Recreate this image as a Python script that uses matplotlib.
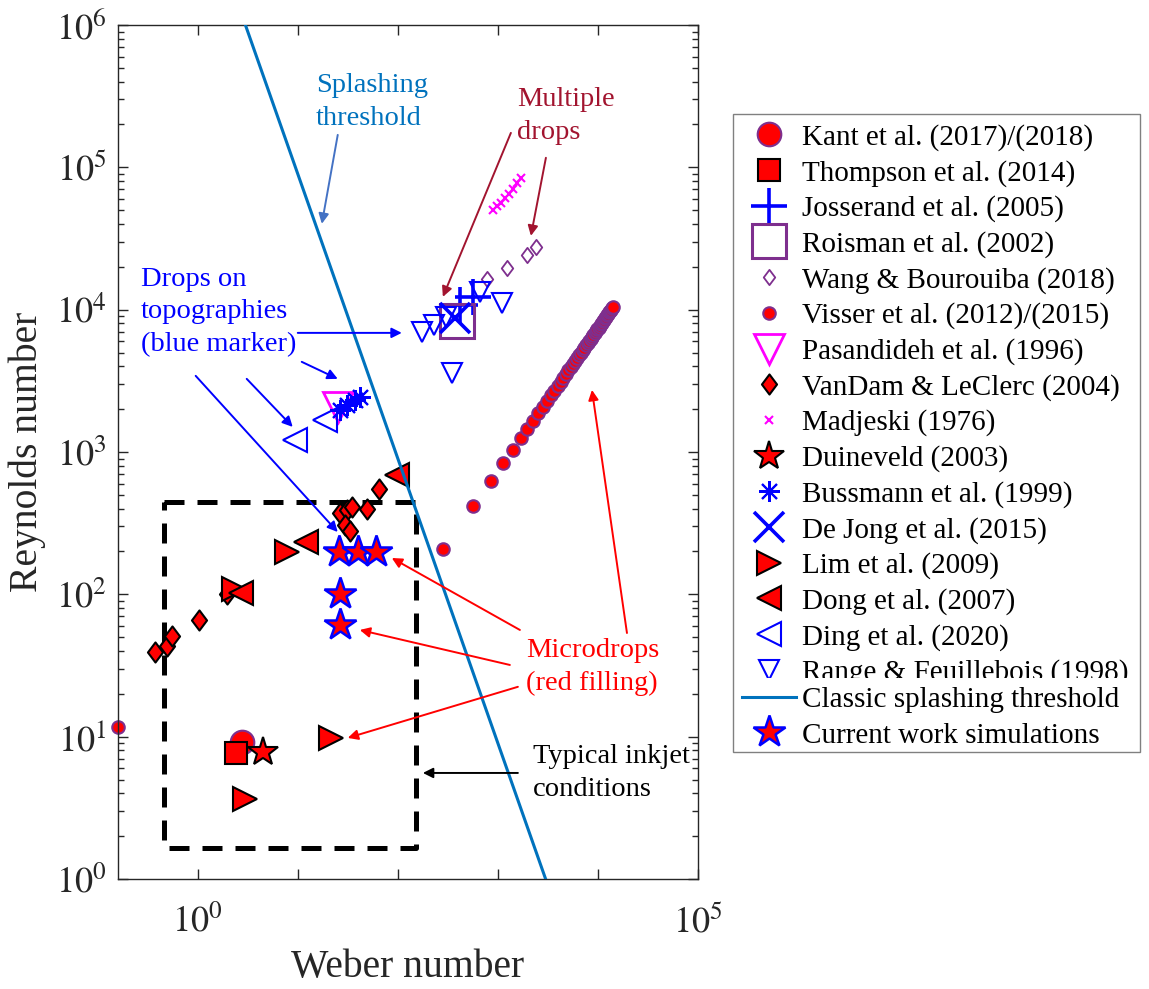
import matplotlib
matplotlib.use("Agg")
import matplotlib.pyplot as plt
from matplotlib.patches import Rectangle
from matplotlib.path import Path

# ---------- data (Weber, Reynolds) ----------
kant_we = [2.8]
kant_re = [9.2]
thompson_we = [2.4]
thompson_re = [7.7]
josserand_we = [417, 562]
josserand_re = [10800, 12300]
roisman_we = [389]
roisman_re = [8340]
wang_we = [776, 1230, 1950, 2400]
wang_re = [16450, 19660, 24270, 27630]
visser_we = [0.158, 282, 564, 846, 1128, 1410, 1692, 1974, 2256, 2538, 2820,
             3102, 3384, 3666, 3948, 4230, 4512, 4794, 5076, 5358, 5640,
             5922, 6204, 6486, 6768, 7050, 7332, 7614, 7896, 8178, 8460,
             8742, 9024, 9306, 9588, 9870, 10152, 10434, 10716, 10998, 11280,
             11562, 11844, 12126, 12408, 12690, 12972, 13254, 13536, 13818, 14100]
visser_re = [11.7, 208, 416, 624, 832, 1040, 1248, 1456, 1664, 1872, 2080,
             2288, 2496, 2704, 2912, 3120, 3328, 3536, 3744, 3952, 4160,
             4368, 4576, 4784, 4992, 5200, 5408, 5616, 5824, 6032, 6240,
             6448, 6656, 6864, 7072, 7280, 7488, 7696, 7904, 8112, 8320,
             8528, 8736, 8944, 9152, 9360, 9568, 9776, 9984, 10192, 10400]
pasandideh_we = [25.1]
pasandideh_re = [2075]
vandam_we = [0.372, 0.49, 0.56, 1.02, 1.95, 26.3, 30.9, 34.7, 49, 29.5, 33.1, 64.6]
vandam_re = [39.4, 43.4, 51, 66, 100.7, 373, 392, 411, 398, 307, 279, 550]
madjeski_we = [891, 977, 1072, 1175, 1288, 1413, 1549, 1698]
madjeski_re = [50200, 53700, 56600, 60400, 65000, 70700, 77000, 84400]
duineveld_we = [4.47]
duineveld_re = [7.8]
bussmann_we = [26.3, 30.9, 37.2, 41.7]
bussmann_re = [1977, 2143, 2323, 2439]
dejong_we = [372]
dejong_re = [8750]
lim_we = [2.29, 7.76, 2.95, 21.4]
lim_re = [109, 199, 3.65, 9.8]
dong_we = [2.69, 12.0, 97.7]
dong_re = [102, 234, 690]
ding_we = [9.33, 18.6]
ding_re = [1217, 1682]
range_we = [174, 229, 302, 661, 1096, 347]
range_re = [6980, 7820, 8900, 13300, 11160, 3600]
current_we = [25.7, 39.8, 60.3, 26.3, 26.3]
current_re = [199, 199, 199, 100.7, 61]

# classic splashing threshold end points and inkjet window
splash_we = [3, 3000]
splash_re = [1e6, 1]
inkjet_we = [0.457, 151, 151, 0.457, 0.457]
inkjet_re = [446, 446, 1.65, 1.65, 446]

labels = ["Kant et al. (2017)/(2018)", "Thompson et al. (2014)",
          "Josserand et al. (2005)", "Roisman et al. (2002)",
          "Wang & Bourouiba (2018)", "Visser et al. (2012)/(2015)",
          "Pasandideh et al. (1996)", "VanDam & LeClerc (2004)",
          "Madjeski (1976)", "Duineveld (2003)", "Bussmann et al. (1999)",
          "De Jong et al. (2015)", "Lim et al. (2009)", "Dong et al. (2007)",
          "Ding et al. (2020)", "Range & Feuillebois (1998)",
          "Classic splashing threshold", "Current work simulations"]

# ---------- style ----------
plt.rcParams['font.family'] = ['Liberation Serif', 'DejaVu Serif']
plt.rcParams['mathtext.fontset'] = 'stix'

PURPLE = '#7E2F8E'
MBLUE = '#0072BD'
DARKRED = '#A2142F'
GREY = (0.15, 0.15, 0.15)

diamond = Path([(0, 1), (0.75, 0), (0, -1), (-0.75, 0), (0, 1)],
               [Path.MOVETO, Path.LINETO, Path.LINETO, Path.LINETO, Path.CLOSEPOLY])

W, H = 1149, 989
fig = plt.figure(figsize=(W / 100, H / 100), dpi=100)
ax = fig.add_axes([117.5 / W, 1 - 879 / H, 580.5 / W, 854 / H])
ax.set_xscale('log')
ax.set_yscale('log')

# dashed inkjet window
ax.plot(inkjet_we, inkjet_re, color='k', lw=3.6, ls=(0, (4, 2.6)),
        dash_capstyle='butt', zorder=1)

series = [
    (kant_we, kant_re, dict(marker='o', ms=17, mfc='red', mec=PURPLE, mew=1.5)),
    (thompson_we, thompson_re, dict(marker='s', ms=15.5, mfc='red', mec='k', mew=1.5)),
    (josserand_we, josserand_re, dict(marker='+', ms=26, color='blue', mew=2.6)),
    (roisman_we, roisman_re, dict(marker='s', ms=24, mfc='none', mec=PURPLE, mew=2.2)),
    (wang_we, wang_re, dict(marker=diamond, ms=11, mfc='none', mec=PURPLE, mew=1.3)),
    (visser_we, visser_re, dict(marker='o', ms=9, mfc='red', mec=PURPLE, mew=1.5)),
    (pasandideh_we, pasandideh_re, dict(marker='v', ms=22, mfc='none', mec='magenta', mew=2)),
    (vandam_we, vandam_re, dict(marker=diamond, ms=14.5, mfc='red', mec='k', mew=1.5)),
    (madjeski_we, madjeski_re, dict(marker='x', ms=6, color='magenta', mew=1.5)),
    (duineveld_we, duineveld_re, dict(marker='*', ms=22, mfc='red', mec='k', mew=1.5)),
    (bussmann_we, bussmann_re, dict(marker=(8, 2, 0), ms=15, color='blue', mew=1.5)),
    (dejong_we, dejong_re, dict(marker='x', ms=21, color='blue', mew=2.6)),
    (lim_we, lim_re, dict(marker='>', ms=17, mfc='red', mec='k', mew=1.5)),
    (dong_we, dong_re, dict(marker='<', ms=17, mfc='red', mec='k', mew=1.5)),
    (ding_we, ding_re, dict(marker='<', ms=17, mfc='none', mec='blue', mew=1.5)),
    (range_we, range_re, dict(marker='v', ms=14, mfc='none', mec='blue', mew=1.5)),
]

handles = []
for we, re, kw in series:
    h, = ax.plot(we, re, ls='none', zorder=2, clip_on=False, **kw)
    handles.append(h)

h_splash, = ax.plot(splash_we, splash_re, color=MBLUE, lw=2.2, zorder=3)
h_cur, = ax.plot(current_we, current_re, ls='none', marker='*', ms=24, mfc='red',
                 mec='blue', mew=1.8, zorder=4)
handles += [h_splash, h_cur]

ax.set_xlim(0.158, 1e5)
ax.set_ylim(1, 1e6)

# ---------- axes cosmetics ----------
ax.set_xticks([1, 10, 100, 1e3, 1e4, 1e5])
ax.set_xticklabels(['$10^{0}$', '', '', '', '', '$10^{5}$'])
ax.xaxis.set_minor_locator(matplotlib.ticker.NullLocator())
ax.set_yticks([1, 10, 100, 1e3, 1e4, 1e5, 1e6])
ax.set_yticklabels(['$10^{%d}$' % i for i in range(7)])
ax.yaxis.set_minor_locator(matplotlib.ticker.LogLocator(base=10, subs=range(2, 10), numticks=20))
ax.tick_params(which='both', direction='in', top=True, right=True, colors=GREY,
               labelsize=26, width=1.0)
ax.tick_params(which='major', length=7)
ax.tick_params(which='minor', length=4)
ax.tick_params(axis='x', pad=19)
ax.tick_params(axis='y', pad=8)
for s in ax.spines.values():
    s.set_color(GREY)
    s.set_linewidth(1.0)

ax.set_xlabel('Weber number', fontsize=28.5, color=GREY)
ax.set_ylabel('Reynolds number', fontsize=28.5, color=GREY)
ax.xaxis.set_label_coords(0.5, -0.082)
ax.yaxis.set_label_coords(-0.123, 0.5)

# ---------- annotations ----------
fs = 20.5
ls_txt = 1.4
ax.text(15.1, 288000, 'Splashing\nthreshold', color=MBLUE, fontsize=fs,
        ha='left', va='center', linespacing=ls_txt)
ax.text(1549, 230000, 'Multiple\ndrops', color=DARKRED, fontsize=fs,
        ha='left', va='center', linespacing=ls_txt)
ax.text(0.269, 9650, 'Drops on\ntopographies\n(blue marker)', color='blue',
        fontsize=fs, ha='left', va='center', linespacing=ls_txt)
ax.text(1905, 30.9, 'Microdrops\n(red filling)', color='red', fontsize=fs,
        ha='left', va='center', linespacing=ls_txt)
ax.text(2239, 5.56, 'Typical inkjet\nconditions', color='k', fontsize=fs,
        ha='left', va='center', linespacing=ls_txt)

arrows = [
    ((25.1, 169000), (17.4, 40100), '#4472C4'),
    ((1349, 174600), (282, 12300), DARKRED),
    ((3020, 116700), (2138, 33000), DARKRED),
    ((10.0, 6870), (109.6, 6870), 'blue'),
    ((10.96, 4300), (25.1, 3265), 'blue'),
    ((3.09, 3265), (8.91, 1500), 'blue'),
    ((0.955, 3428), (25.1, 274), 'blue'),
    ((1660, 56.2), (87.1, 180), 'red'),
    ((1318, 31.9), (41.7, 56.2), 'red'),
    ((1585, 22.4), (31.6, 9.8), 'red'),
    ((19500, 53.5), (8710, 2730), 'red'),
    ((1585, 5.56), (178, 5.56), 'k'),
]
for start, tip, c in arrows:
    ax.annotate('', xy=tip, xytext=start,
                arrowprops=dict(arrowstyle='-|>', color=c, lw=1.4,
                                mutation_scale=15, shrinkA=0, shrinkB=0),
                zorder=5)

# ---------- legend ----------
lkw = dict(fontsize=21, handlelength=1.86, handletextpad=0.2, labelspacing=0.3,
           numpoints=1, loc='upper left', bbox_transform=fig.transFigure,
           borderaxespad=0)
leg1 = fig.legend(handles[:16], labels[:16], bbox_to_anchor=(742 / W, 1 - 124 / H),
                  frameon=False, borderpad=0, **lkw)
leg1.set_zorder(5)
fig.patches.append(Rectangle((734 / W, 1 - 687 / H), 405 / W, 9 / H,
                             transform=fig.transFigure, facecolor='white',
                             edgecolor='none', zorder=5.5))
leg2 = fig.legend(handles[16:], labels[16:], bbox_to_anchor=(742 / W, 1 - 687 / H),
                  frameon=False, borderpad=0, **lkw)
leg2.set_zorder(6)
fig.patches.append(Rectangle((733 / W, 1 - 752 / H), 407 / W, 638 / H,
                             transform=fig.transFigure, fill=False,
                             edgecolor='#808080', lw=1.0, zorder=7))

fig.savefig('out.png', dpi=100)
